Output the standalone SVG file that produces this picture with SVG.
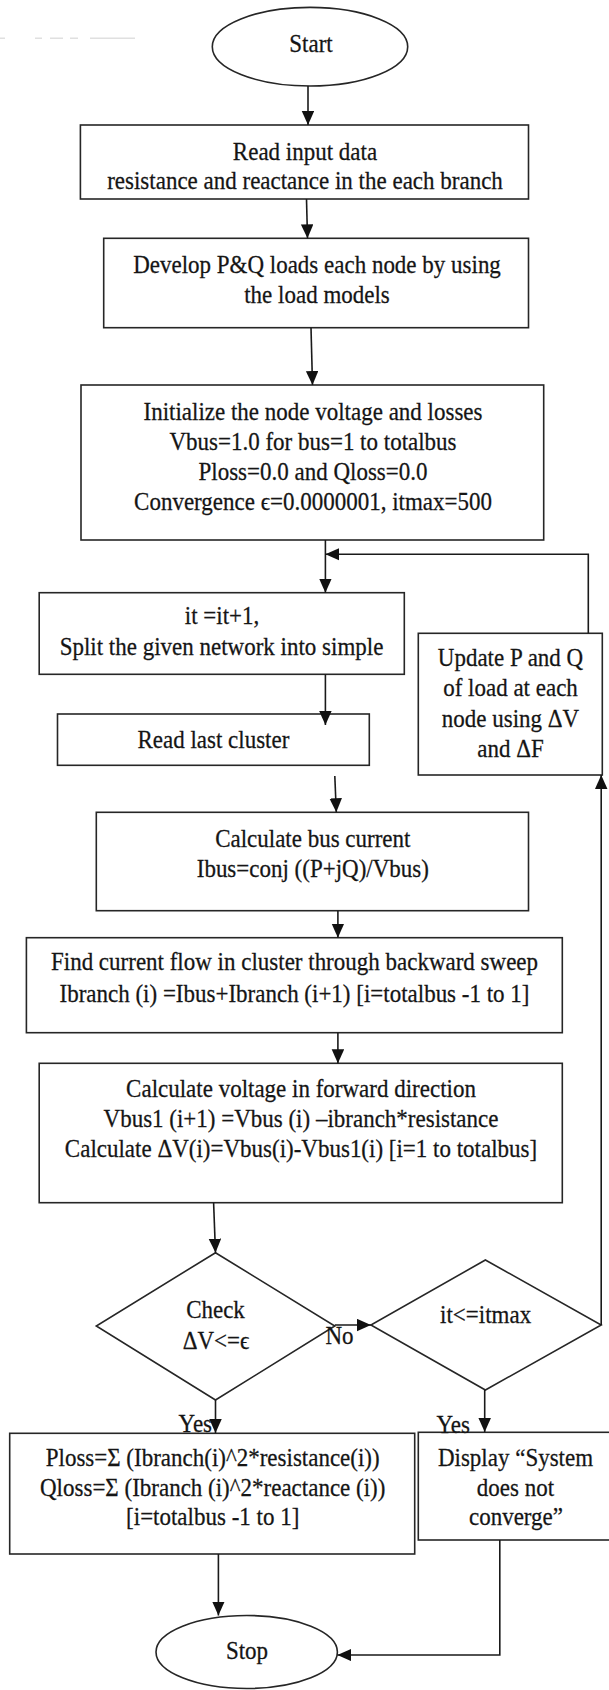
<svg xmlns="http://www.w3.org/2000/svg" width="609" height="1690" viewBox="0 0 609 1690">
  <style>
    .box { fill: #ffffff; stroke: #262626; stroke-width: 1.6; }
    .t { font-family: "Liberation Serif", "Times New Roman", serif; font-size: 23px; fill: #151515; stroke: #151515; stroke-width: 0.25; text-anchor: middle; }
    .lbl { font-family: "Liberation Serif", "Times New Roman", serif; font-size: 23px; fill: #151515; stroke: #151515; stroke-width: 0.25; }
    .edge { fill: none; stroke: #1a1a1a; stroke-width: 1.6; marker-end: url(#head); }
  </style>
  <defs>
    <marker id="head" markerUnits="userSpaceOnUse" markerWidth="14" markerHeight="13" refX="14" refY="6.25" orient="auto">
      <path d="M0,0 L14,6.25 L0,12.5 Z" fill="#111111"/>
    </marker>
  </defs>

  <rect width="609" height="1690" fill="#ffffff"/>

  <!-- faint remnant marks at top left -->
  <path d="M0,38.3 H5 M35,38.3 H42 M50,38.3 H63 M70,38.3 H78 M90,38.3 H135" stroke="#e0e0e0" stroke-width="1.5" fill="none"/>

  <g id="start">
    <ellipse class="box" cx="310" cy="46.7" rx="97.7" ry="39.3"/>
    <text class="t" transform="translate(311,51.5) scale(1,1.12)">Start</text>
  </g>

  <g id="read-input">
    <rect class="box" x="80.4" y="125" width="448.1" height="74"/>
    <text class="t" transform="translate(305,160) scale(1,1.12)">Read input data</text>
    <text class="t" transform="translate(305,189.3) scale(1,1.12)">resistance and reactance in the each branch</text>
  </g>

  <g id="develop-loads">
    <rect class="box" x="103.7" y="238.3" width="424.8" height="89.4"/>
    <text class="t" transform="translate(317,272.7) scale(1,1.12)">Develop P&amp;Q loads each node by using</text>
    <text class="t" transform="translate(317,303.3) scale(1,1.12)">the load models</text>
  </g>

  <g id="initialize">
    <rect class="box" x="81" y="385" width="462.7" height="155"/>
    <text class="t" transform="translate(313,419.5) scale(1,1.12)">Initialize the node voltage and losses</text>
    <text class="t" transform="translate(313,450.3) scale(1,1.12)">Vbus=1.0 for bus=1 to totalbus</text>
    <text class="t" transform="translate(313,479.7) scale(1,1.12)">Ploss=0.0 and Qloss=0.0</text>
    <text class="t" transform="translate(313,509.7) scale(1,1.12)">Convergence ϵ=0.0000001, itmax=500</text>
  </g>

  <g id="iterate-split">
    <rect class="box" x="39.2" y="592.7" width="365.1" height="81.6"/>
    <text class="t" transform="translate(222,624.3) scale(1,1.12)">it =it+1,</text>
    <text class="t" transform="translate(221.5,655) scale(1,1.12)">Split the given network into simple</text>
  </g>

  <g id="read-cluster">
    <rect class="box" x="57.5" y="714" width="311.8" height="51.3"/>
    <text class="t" transform="translate(213.4,748.3) scale(1,1.12)">Read last cluster</text>
  </g>

  <g id="update-load">
    <rect class="box" x="418.3" y="633.3" width="184" height="141.7"/>
    <text class="t" transform="translate(510.5,666) scale(1,1.12)">Update P and Q</text>
    <text class="t" transform="translate(510.5,696) scale(1,1.12)">of load at each</text>
    <text class="t" transform="translate(510.5,727) scale(1,1.12)">node using ΔV</text>
    <text class="t" transform="translate(510.5,757) scale(1,1.12)">and ΔF</text>
  </g>

  <g id="bus-current">
    <rect class="box" x="96.3" y="812.3" width="432.2" height="98.4"/>
    <text class="t" transform="translate(312.8,846.7) scale(1,1.12)">Calculate bus current</text>
    <text class="t" transform="translate(312.8,876.7) scale(1,1.12)">Ibus=conj ((P+jQ)/Vbus)</text>
  </g>

  <g id="backward-sweep">
    <rect class="box" x="26.4" y="937.7" width="535.9" height="95"/>
    <text class="t" transform="translate(294.5,970) scale(1,1.12)">Find current flow in cluster through backward sweep</text>
    <text class="t" transform="translate(294.5,1001.7) scale(1,1.12)">Ibranch (i) =Ibus+Ibranch (i+1) [i=totalbus -1 to 1]</text>
  </g>

  <g id="forward-sweep">
    <rect class="box" x="39.2" y="1063.3" width="523.1" height="139.4"/>
    <text class="t" transform="translate(301,1096.7) scale(1,1.12)">Calculate voltage in forward direction</text>
    <text class="t" transform="translate(301,1126.7) scale(1,1.12)">Vbus1 (i+1) =Vbus (i) –ibranch*resistance</text>
    <text class="t" transform="translate(301,1157.3) scale(1,1.12)">Calculate ΔV(i)=Vbus(i)-Vbus1(i) [i=1 to totalbus]</text>
  </g>

  <g id="check-convergence">
    <polygon class="box" points="215.5,1252.7 334.8,1326 215.5,1400 96.3,1326"/>
    <text class="t" transform="translate(215.5,1318.3) scale(1,1.12)">Check</text>
    <text class="t" transform="translate(216,1348.8) scale(1,1.12)">ΔV&lt;=ϵ</text>
  </g>

  <g id="check-itmax">
    <polygon class="box" points="485.4,1260 601.2,1325 485.4,1390 370.9,1325"/>
    <text class="t" transform="translate(485.6,1322.7) scale(1,1.12)">it&lt;=itmax</text>
  </g>

  <g id="losses">
    <rect class="box" x="9.7" y="1433.3" width="405" height="120.7"/>
    <text class="t" transform="translate(212.7,1466) scale(1,1.12)">Ploss=Σ (Ibranch(i)^2*resistance(i))</text>
    <text class="t" transform="translate(212.7,1495.5) scale(1,1.12)">Qloss=Σ (Ibranch (i)^2*reactance (i))</text>
    <text class="t" transform="translate(212.7,1524.5) scale(1,1.12)">[i=totalbus -1 to 1]</text>
  </g>

  <g id="not-converge">
    <rect class="box" x="418.3" y="1432.3" width="200" height="107.7"/>
    <text class="t" transform="translate(515.5,1466) scale(1,1.12)">Display “System</text>
    <text class="t" transform="translate(515.5,1495.5) scale(1,1.12)">does not</text>
    <text class="t" transform="translate(516,1524.5) scale(1,1.12)">converge”</text>
  </g>

  <g id="stop">
    <ellipse class="box" cx="246.7" cy="1652" rx="90.7" ry="36.5"/>
    <text class="t" transform="translate(247,1658.5) scale(1,1.12)">Stop</text>
  </g>

  <g id="connectors">
    <path class="edge" d="M308,86 V125"/>
    <path class="edge" d="M306.5,199 L307.5,238.3"/>
    <path class="edge" d="M311,327.7 L312.5,385"/>
    <path class="edge" d="M325.4,540 V592.7"/>
    <path class="edge" d="M588.3,633.3 V554.3 H325.4"/>
    <path class="edge" d="M325.4,674.3 V725"/>
    <path class="edge" d="M334.8,776 L336.3,812.3"/>
    <path class="edge" d="M337.9,910.7 V937.7"/>
    <path class="edge" d="M337.9,1032.7 V1063.3"/>
    <path class="edge" d="M213.6,1202.7 L215.5,1252.7"/>
    <path class="edge" d="M334.8,1325 H370.9"/>
    <path class="edge" d="M601.2,1325 V775"/>
    <path class="edge" d="M215.5,1400 V1433"/>
    <path class="edge" d="M484.7,1390 V1432"/>
    <path class="edge" d="M218.4,1554 V1615.5"/>
    <path class="edge" d="M499.8,1540 V1655 H337.4"/>
    <text class="lbl" transform="translate(325.4,1344) scale(1,1.12)">No</text>
    <text class="lbl" transform="translate(178.6,1432) scale(1,1.12)">Yes</text>
    <text class="lbl" transform="translate(436.5,1432.5) scale(1,1.12)">Yes</text>
  </g>
</svg>
